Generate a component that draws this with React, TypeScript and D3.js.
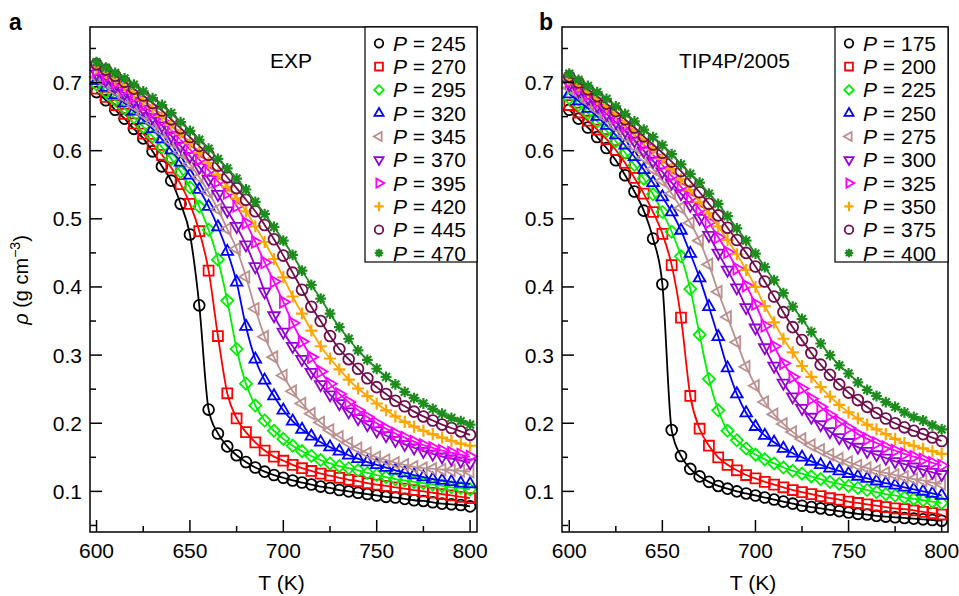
import React, { useEffect, useRef } from 'react';
import * as d3 from 'd3';

// temperature grid (K), one marker every 5 K
const temps = [600, 605, 610, 615, 620, 625, 630, 635, 640, 645, 650, 655, 660, 665, 670, 675, 680, 685, 690, 695, 700,
  705, 710, 715, 720, 725, 730, 735, 740, 745, 750, 755, 760, 765, 770, 775, 780, 785, 790, 795, 800];

const expPressures = [245, 270, 295, 320, 345, 370, 395, 420, 445, 470];
const tipPressures = [175, 200, 225, 250, 275, 300, 325, 350, 375, 400];

// panel a, EXP (density g cm^-3)
const exp245 = [0.686, 0.674, 0.660, 0.647, 0.632, 0.618, 0.599, 0.577, 0.556, 0.522, 0.477, 0.373, 0.220, 0.185, 0.166, 0.153, 0.143, 0.135, 0.129, 0.124, 0.120,
  0.116, 0.113, 0.110, 0.107, 0.105, 0.102, 0.100, 0.098, 0.096, 0.094, 0.092, 0.091, 0.089, 0.087, 0.086, 0.084, 0.082, 0.081, 0.080, 0.078];
const exp270 = [0.691, 0.679, 0.667, 0.654, 0.640, 0.625, 0.610, 0.594, 0.575, 0.551, 0.522, 0.482, 0.424, 0.328, 0.244, 0.207, 0.187, 0.172, 0.160, 0.151, 0.145,
  0.139, 0.134, 0.130, 0.126, 0.123, 0.120, 0.117, 0.115, 0.112, 0.110, 0.108, 0.106, 0.104, 0.102, 0.100, 0.098, 0.096, 0.094, 0.092, 0.090];
const exp295 = [0.697, 0.686, 0.674, 0.662, 0.649, 0.635, 0.621, 0.605, 0.588, 0.569, 0.546, 0.518, 0.484, 0.440, 0.380, 0.309, 0.258, 0.226, 0.204, 0.189, 0.177,
  0.167, 0.159, 0.152, 0.146, 0.141, 0.137, 0.134, 0.131, 0.127, 0.124, 0.121, 0.118, 0.116, 0.114, 0.112, 0.110, 0.108, 0.106, 0.105, 0.103];
const exp320 = [0.703, 0.693, 0.682, 0.670, 0.658, 0.645, 0.632, 0.617, 0.601, 0.583, 0.564, 0.543, 0.518, 0.488, 0.452, 0.407, 0.342, 0.294, 0.263, 0.240, 0.219,
  0.203, 0.191, 0.181, 0.172, 0.165, 0.159, 0.153, 0.148, 0.143, 0.139, 0.135, 0.131, 0.127, 0.124, 0.121, 0.118, 0.116, 0.114, 0.112, 0.111];
const exp345 = [0.708, 0.699, 0.688, 0.678, 0.666, 0.654, 0.641, 0.628, 0.613, 0.597, 0.580, 0.561, 0.539, 0.514, 0.485, 0.456, 0.415, 0.368, 0.327, 0.297, 0.270,
  0.247, 0.229, 0.214, 0.201, 0.190, 0.180, 0.171, 0.163, 0.156, 0.150, 0.146, 0.142, 0.139, 0.136, 0.134, 0.133, 0.132, 0.131, 0.130, 0.129];
const exp370 = [0.713, 0.704, 0.694, 0.684, 0.673, 0.661, 0.649, 0.637, 0.622, 0.607, 0.592, 0.576, 0.558, 0.536, 0.512, 0.489, 0.462, 0.430, 0.393, 0.358, 0.334,
  0.313, 0.294, 0.275, 0.257, 0.242, 0.229, 0.217, 0.207, 0.198, 0.189, 0.182, 0.175, 0.169, 0.164, 0.159, 0.155, 0.151, 0.148, 0.145, 0.142];
const exp395 = [0.717, 0.708, 0.699, 0.689, 0.679, 0.667, 0.656, 0.644, 0.630, 0.616, 0.602, 0.587, 0.571, 0.555, 0.538, 0.519, 0.494, 0.466, 0.436, 0.408, 0.378,
  0.347, 0.320, 0.297, 0.276, 0.258, 0.243, 0.231, 0.219, 0.209, 0.200, 0.192, 0.185, 0.179, 0.173, 0.168, 0.164, 0.160, 0.157, 0.154, 0.151];
const exp420 = [0.722, 0.714, 0.704, 0.695, 0.685, 0.674, 0.663, 0.651, 0.638, 0.625, 0.611, 0.597, 0.582, 0.565, 0.547, 0.530, 0.511, 0.489, 0.466, 0.441, 0.414,
  0.386, 0.361, 0.336, 0.313, 0.295, 0.279, 0.264, 0.251, 0.240, 0.229, 0.219, 0.210, 0.202, 0.195, 0.189, 0.184, 0.179, 0.174, 0.170, 0.167];
const exp445 = [0.727, 0.719, 0.710, 0.701, 0.691, 0.681, 0.670, 0.659, 0.646, 0.633, 0.620, 0.607, 0.594, 0.578, 0.561, 0.545, 0.528, 0.511, 0.491, 0.470, 0.446,
  0.421, 0.396, 0.371, 0.350, 0.328, 0.309, 0.294, 0.280, 0.266, 0.253, 0.243, 0.233, 0.225, 0.217, 0.210, 0.204, 0.198, 0.193, 0.188, 0.183];
const exp470 = [0.730, 0.722, 0.714, 0.706, 0.697, 0.687, 0.677, 0.667, 0.655, 0.642, 0.629, 0.616, 0.603, 0.588, 0.574, 0.559, 0.543, 0.525, 0.507, 0.488, 0.468,
  0.447, 0.424, 0.403, 0.383, 0.361, 0.341, 0.324, 0.307, 0.293, 0.280, 0.268, 0.257, 0.246, 0.237, 0.229, 0.221, 0.214, 0.208, 0.203, 0.198];

// panel b, TIP4P/2005
const tip175 = [0.660, 0.647, 0.634, 0.620, 0.604, 0.586, 0.564, 0.540, 0.512, 0.471, 0.404, 0.190, 0.152, 0.133, 0.122, 0.114, 0.108, 0.104, 0.100, 0.097, 0.094,
  0.091, 0.088, 0.085, 0.082, 0.079, 0.077, 0.075, 0.073, 0.071, 0.069, 0.067, 0.066, 0.064, 0.063, 0.062, 0.061, 0.060, 0.059, 0.058, 0.057];
const tip200 = [0.667, 0.656, 0.644, 0.631, 0.617, 0.601, 0.582, 0.560, 0.537, 0.510, 0.478, 0.432, 0.355, 0.240, 0.192, 0.167, 0.150, 0.139, 0.131, 0.124, 0.119,
  0.114, 0.110, 0.106, 0.102, 0.099, 0.096, 0.093, 0.090, 0.088, 0.085, 0.083, 0.081, 0.079, 0.077, 0.075, 0.074, 0.072, 0.070, 0.068, 0.066];
const tip225 = [0.677, 0.667, 0.655, 0.643, 0.629, 0.614, 0.597, 0.579, 0.559, 0.536, 0.510, 0.481, 0.445, 0.397, 0.330, 0.265, 0.219, 0.189, 0.175, 0.163, 0.154,
  0.147, 0.141, 0.135, 0.130, 0.126, 0.122, 0.118, 0.114, 0.111, 0.108, 0.105, 0.102, 0.099, 0.096, 0.094, 0.091, 0.089, 0.087, 0.085, 0.083];
const tip250 = [0.683, 0.673, 0.662, 0.650, 0.637, 0.623, 0.608, 0.591, 0.572, 0.553, 0.532, 0.510, 0.483, 0.449, 0.413, 0.371, 0.327, 0.281, 0.243, 0.215, 0.195,
  0.182, 0.172, 0.163, 0.156, 0.150, 0.144, 0.139, 0.134, 0.130, 0.126, 0.122, 0.119, 0.115, 0.112, 0.109, 0.106, 0.103, 0.100, 0.097, 0.094];
const tip275 = [0.692, 0.683, 0.672, 0.660, 0.648, 0.635, 0.621, 0.606, 0.590, 0.573, 0.556, 0.537, 0.516, 0.494, 0.468, 0.433, 0.393, 0.356, 0.319, 0.283, 0.255,
  0.231, 0.213, 0.199, 0.187, 0.177, 0.168, 0.161, 0.154, 0.148, 0.143, 0.138, 0.134, 0.130, 0.127, 0.124, 0.121, 0.118, 0.116, 0.113, 0.111];
const tip300 = [0.697, 0.688, 0.677, 0.666, 0.654, 0.642, 0.629, 0.615, 0.600, 0.585, 0.569, 0.553, 0.537, 0.520, 0.501, 0.476, 0.450, 0.425, 0.399, 0.370, 0.340,
  0.311, 0.284, 0.259, 0.239, 0.222, 0.209, 0.198, 0.188, 0.179, 0.172, 0.165, 0.159, 0.154, 0.149, 0.144, 0.140, 0.136, 0.132, 0.128, 0.125];
const tip325 = [0.701, 0.692, 0.682, 0.671, 0.660, 0.648, 0.636, 0.623, 0.609, 0.594, 0.579, 0.563, 0.547, 0.531, 0.514, 0.495, 0.473, 0.451, 0.427, 0.402, 0.375,
  0.343, 0.313, 0.288, 0.268, 0.251, 0.236, 0.224, 0.212, 0.202, 0.193, 0.184, 0.177, 0.171, 0.165, 0.160, 0.155, 0.151, 0.147, 0.142, 0.138];
const tip350 = [0.705, 0.696, 0.686, 0.676, 0.665, 0.654, 0.642, 0.629, 0.616, 0.602, 0.588, 0.573, 0.558, 0.542, 0.525, 0.508, 0.489, 0.469, 0.448, 0.425, 0.400,
  0.372, 0.348, 0.324, 0.304, 0.284, 0.268, 0.253, 0.239, 0.227, 0.216, 0.207, 0.198, 0.191, 0.184, 0.177, 0.171, 0.167, 0.163, 0.159, 0.155];
const tip375 = [0.709, 0.700, 0.690, 0.680, 0.669, 0.658, 0.646, 0.634, 0.621, 0.609, 0.597, 0.584, 0.570, 0.555, 0.539, 0.522, 0.505, 0.487, 0.469, 0.450, 0.430,
  0.408, 0.386, 0.363, 0.341, 0.322, 0.303, 0.286, 0.271, 0.257, 0.245, 0.234, 0.224, 0.215, 0.207, 0.200, 0.194, 0.189, 0.184, 0.179, 0.174];
const tip400 = [0.713, 0.704, 0.695, 0.686, 0.676, 0.665, 0.654, 0.643, 0.631, 0.620, 0.608, 0.595, 0.580, 0.566, 0.553, 0.537, 0.522, 0.504, 0.486, 0.468, 0.449,
  0.429, 0.410, 0.391, 0.371, 0.353, 0.334, 0.317, 0.300, 0.285, 0.273, 0.260, 0.249, 0.240, 0.231, 0.224, 0.216, 0.209, 0.204, 0.197, 0.191];

const colors = ['#000000', '#ff0000', '#00f000', '#0000ff', '#bc8f8f', '#9400d3', '#ff00ff', '#ffa500', '#6e0f4c', '#1c8c1c'];
const shapes = ['circle', 'square', 'diamond', 'triUp', 'triLeft', 'triDown', 'triRight', 'plus', 'circle', 'star'];

const xTicks = [600, 650, 700, 750, 800];
const xMinor = [625, 675, 725, 775];
const yTicks = [0.1, 0.2, 0.3, 0.4, 0.5, 0.6, 0.7];
const yMinor = [0.05, 0.15, 0.25, 0.35, 0.45, 0.55, 0.65, 0.75];

const FONT = "'Liberation Sans', Arial, Helvetica, sans-serif";

function markerD(shape: string, k: number): string {
  if (shape === 'circle') {
    const r = 5 * k;
    return `M${r},0A${r},${r} 0 1,1 ${-r},0A${r},${r} 0 1,1 ${r},0Z`;
  }
  if (shape === 'square') {
    const h = 4.6 * k;
    return `M${-h},${-h}H${h}V${h}H${-h}Z`;
  }
  if (shape === 'diamond') {
    const d = 5.6 * k;
    return `M0,${-d}L${d},0L0,${d}L${-d},0Z`;
  }
  const r = 6.2 * k;
  const a = r * 0.866, b = r * 0.5;
  if (shape === 'triUp') return `M0,${-r}L${a},${b}L${-a},${b}Z`;
  if (shape === 'triDown') return `M0,${r}L${a},${-b}L${-a},${-b}Z`;
  if (shape === 'triLeft') return `M${-r},0L${b},${-a}L${b},${a}Z`;
  if (shape === 'triRight') return `M${r},0L${-b},${-a}L${-b},${a}Z`;
  if (shape === 'plus') {
    const p = 5.6 * k;
    return `M${-p},0H${p}M0,${-p}V${p}`;
  }
  // asterisk
  const s = 5 * k, t = s * 0.72;
  return `M${-s},0H${s}M0,${-s}V${s}M${-t},${-t}L${t},${t}M${-t},${t}L${t},${-t}`;
}

const App = () => {
  const svgRef = useRef<SVGSVGElement>(null);

  useEffect(() => {
    const svg = d3.select(svgRef.current);
    svg.selectAll('*').remove();

    const y = d3.scaleLinear().domain([0.0404, 0.7815]).range([532, 27]);

    const panels = [
      { left: 90, right: 477, xDomain: [596.5, 803.7], series: [exp245, exp270, exp295, exp320, exp345, exp370, exp395, exp420, exp445, exp470],
        pressures: expPressures, tag: 'EXP', tagX: 270, letter: 'a', letterX: 9, legendLeft: 365 },
      { left: 562, right: 948, xDomain: [596.1, 803.4], series: [tip175, tip200, tip225, tip250, tip275, tip300, tip325, tip350, tip375, tip400],
        pressures: tipPressures, tag: 'TIP4P/2005', tagX: 679, letter: 'b', letterX: 539, legendLeft: 835 },
    ];

    panels.forEach(p => {
      const x = d3.scaleLinear().domain(p.xDomain).range([p.left, p.right]);
      const g = svg.append('g');

      // curves with markers
      p.series.forEach((vals, i) => {
        const pts = temps.map((t, j) => [t, vals[j]] as [number, number]);
        const line = d3.line<[number, number]>()
          .x(d => x(d[0]))
          .y(d => y(d[1]))
          .curve(d3.curveMonotoneX);
        g.append('path')
          .attr('d', line(pts))
          .attr('fill', 'none')
          .attr('stroke', colors[i])
          .attr('stroke-width', 1.8);
        const sw = shapes[i] === 'plus' || shapes[i] === 'star' ? 2.2 : 1.8;
        g.append('g').selectAll('path')
          .data(pts)
          .enter()
          .append('path')
          .attr('transform', d => `translate(${x(d[0])},${y(d[1])})`)
          .attr('d', markerD(shapes[i], 1.08))
          .attr('fill', 'none')
          .attr('stroke', colors[i])
          .attr('stroke-width', sw);
      });

      // ticks (inside)
      xTicks.forEach(t => g.append('line').attr('x1', x(t)).attr('x2', x(t)).attr('y1', 532).attr('y2', 520)
        .attr('stroke', '#000').attr('stroke-width', 1.5));
      xMinor.forEach(t => g.append('line').attr('x1', x(t)).attr('x2', x(t)).attr('y1', 532).attr('y2', 526)
        .attr('stroke', '#000').attr('stroke-width', 1.5));
      yTicks.forEach(t => g.append('line').attr('x1', p.left).attr('x2', p.left + 12).attr('y1', y(t)).attr('y2', y(t))
        .attr('stroke', '#000').attr('stroke-width', 1.5));
      yMinor.forEach(t => g.append('line').attr('x1', p.left).attr('x2', p.left + 6).attr('y1', y(t)).attr('y2', y(t))
        .attr('stroke', '#000').attr('stroke-width', 1.5));

      // tick labels
      xTicks.forEach(t => g.append('text').attr('x', x(t)).attr('y', 558).attr('text-anchor', 'middle')
        .attr('font-family', FONT).attr('font-size', 21).text(t));
      yTicks.forEach(t => g.append('text').attr('x', p.left - 8).attr('y', y(t) + 7.5).attr('text-anchor', 'end')
        .attr('font-family', FONT).attr('font-size', 21).text(d3.format('.1f')(t)));

      // frame
      g.append('rect').attr('x', p.left).attr('y', 27).attr('width', p.right - p.left).attr('height', 505)
        .attr('fill', 'none').attr('stroke', '#000').attr('stroke-width', 1.5);

      // axis title
      g.append('text').attr('x', (p.left + p.right) / 2 - 2).attr('y', 590).attr('text-anchor', 'middle')
        .attr('font-family', FONT).attr('font-size', 21).text('T (K)');

      // panel letter and model tag
      g.append('text').attr('x', p.letterX).attr('y', 30).attr('font-family', FONT).attr('font-size', 23)
        .attr('font-weight', 'bold').text(p.letter);
      g.append('text').attr('x', p.tagX).attr('y', 68).attr('font-family', FONT).attr('font-size', 21).text(p.tag);

      // legend
      const lg = g.append('g');
      lg.append('rect').attr('x', p.legendLeft).attr('y', 27).attr('width', p.right - p.legendLeft).attr('height', 235)
        .attr('fill', '#fff').attr('stroke', '#000').attr('stroke-width', 1.2);
      p.pressures.forEach((pr, i) => {
        const ly = 43.3 + i * 23.3;
        lg.append('path')
          .attr('transform', `translate(${p.legendLeft + 14},${ly})`)
          .attr('d', markerD(shapes[i], 0.85))
          .attr('fill', 'none')
          .attr('stroke', colors[i])
          .attr('stroke-width', shapes[i] === 'plus' || shapes[i] === 'star' ? 2.2 : 1.8);
        const tx = lg.append('text').attr('x', p.legendLeft + 28).attr('y', ly + 7.5)
          .attr('font-family', FONT).attr('font-size', 21);
        tx.append('tspan').attr('font-style', 'italic').text('P');
        tx.append('tspan').text(` = ${pr}`);
      });
    });

    // y axis title
    const yl = svg.append('text')
      .attr('transform', 'translate(28,280) rotate(-90)')
      .attr('text-anchor', 'middle')
      .attr('font-family', FONT)
      .attr('font-size', 20);
    yl.append('tspan').attr('font-style', 'italic').text('ρ');
    yl.append('tspan').text(' (g cm');
    yl.append('tspan').attr('font-size', 14).attr('dy', -8).text('−3');
    yl.append('tspan').attr('dy', 8).text(')');
  }, []);

  return (
    <svg ref={svgRef} width={959} height={596}
      style={{ position: 'absolute', left: 0, top: 0, background: '#fff' }} />
  );
};

export default App;
